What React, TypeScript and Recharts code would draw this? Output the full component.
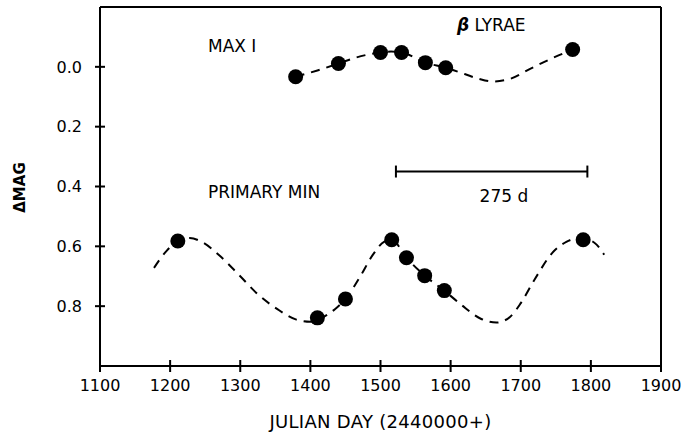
import React from "react";
import {
  ComposedChart,
  Line,
  Scatter,
  XAxis,
  YAxis,
  ReferenceDot,
  ReferenceLine,
} from "recharts";

// Julian day (2440000+) and delta magnitude
const dayTicks = [1100, 1200, 1300, 1400, 1500, 1600, 1700, 1800, 1900];
const magTicks = [0, 0.2, 0.4, 0.6, 0.8];
const dayRange = [1100, 1900];
const magRange = [-0.2, 1.0];

// MAX I observations
const maxDays = [1379, 1440, 1500, 1530, 1564, 1593, 1774];
const maxMags = [0.033, -0.011, -0.048, -0.048, -0.014, 0.003, -0.058];

// MAX I dashed fit
const maxFitDays = [1379, 1410, 1440, 1465, 1500, 1515, 1530, 1564, 1593, 1620, 1640, 1660, 1685, 1714, 1745, 1774];
const maxFitMags = [0.033, 0.012, -0.011, -0.031, -0.048, -0.051, -0.048, -0.014, 0.003, 0.024, 0.04, 0.049, 0.04, 0.006, -0.029, -0.058];

// primary minimum observations
const minDays = [1211, 1410, 1450, 1516, 1537, 1563, 1591, 1789];
const minMags = [0.582, 0.839, 0.776, 0.578, 0.638, 0.698, 0.748, 0.578];

// primary minimum dashed fit
const minFitDays = [
  1177, 1195, 1211, 1228, 1245, 1270, 1300, 1325, 1353, 1380, 1400, 1415, 1435, 1450, 1470, 1490,
  1505, 1516, 1537, 1563, 1591, 1615, 1643, 1665, 1685, 1700, 1720, 1745, 1765, 1785, 1805, 1819,
];
const minFitMags = [
  0.672, 0.615, 0.582, 0.572, 0.585, 0.63, 0.7, 0.76, 0.81, 0.845, 0.852, 0.84, 0.81, 0.776, 0.705, 0.625,
  0.585, 0.578, 0.638, 0.698, 0.748, 0.795, 0.842, 0.855, 0.835, 0.79, 0.71, 0.622, 0.585, 0.572, 0.588, 0.628,
];

// 275 d period bar
const periodStart = 1522;
const periodEnd = 1795;
const periodMag = 0.35;

const toPoints = (days: number[], mags: number[]) => days.map((day, i) => ({ day, mag: mags[i] }));

const maxPoints = toPoints(maxDays, maxMags);
const maxFit = toPoints(maxFitDays, maxFitMags);
const minPoints = toPoints(minDays, minMags);
const minFit = toPoints(minFitDays, minFitMags);

// where the crossing tick marks sit on the bottom and left axes
const dayTickMarks = dayTicks.map((day) => ({ day, mag: magRange[1] }));
const magTickMarks = magTicks.map((mag) => ({ day: dayRange[0], mag }));

const FONT = "'DejaVu Sans', sans-serif";
const INK = "#000";
const CAP_HALF = 0.02;

type VB = { x?: number; y?: number; width?: number; height?: number };
type TickProps = { x?: number; y?: number; payload?: { value: number } };
type ShapeProps = { cx?: number; cy?: number };

function DayTick({ x, y, payload }: TickProps) {
  if (typeof x !== "number" || typeof y !== "number" || !payload) return null;
  return (
    <text x={x} y={y + 25} textAnchor="middle" fontFamily={FONT} fontSize={16} fill={INK}>
      {payload.value}
    </text>
  );
}

function MagTick({ x, y, payload }: TickProps) {
  if (typeof x !== "number" || typeof y !== "number" || !payload) return null;
  return (
    <text x={x} y={y} dy="0.36em" textAnchor="end" fontFamily={FONT} fontSize={16} fill={INK}>
      {payload.value.toFixed(1)}
    </text>
  );
}

// crossing tick on the bottom axis
function VTick({ cx, cy }: ShapeProps) {
  if (typeof cx !== "number" || typeof cy !== "number") return null;
  return <rect x={cx - 1} y={cy - 6} width={2} height={12} fill={INK} />;
}

// crossing tick on the left axis
function HTick({ cx, cy }: ShapeProps) {
  if (typeof cx !== "number" || typeof cy !== "number") return null;
  return <rect x={cx - 5} y={cy - 1} width={10} height={2} fill={INK} />;
}

function Dot({ cx, cy }: ShapeProps) {
  if (typeof cx !== "number" || typeof cy !== "number") return null;
  return <circle cx={cx} cy={cy} r={7.5} fill={INK} />;
}

function note(text: React.ReactNode, anchor: "start" | "middle") {
  return (props: { viewBox?: VB }) => {
    const vb = props.viewBox ?? {};
    const cx = (vb.x ?? 0) + (vb.width ?? 0) / 2;
    const cy = (vb.y ?? 0) + (vb.height ?? 0) / 2;
    return (
      <text x={cx} y={cy} dy="0.36em" textAnchor={anchor} fontFamily={FONT} fontSize={17} fill={INK}>
        {text}
      </text>
    );
  };
}

const xTitle = (props: { viewBox?: VB }) => {
  const vb = props.viewBox ?? {};
  return (
    <text
      x={(vb.x ?? 0) + (vb.width ?? 0) / 2}
      y={(vb.y ?? 0) + 62}
      textAnchor="middle"
      fontFamily={FONT}
      fontSize={18}
      letterSpacing={0.3}
      fill={INK}
    >
      JULIAN DAY (2440000+)
    </text>
  );
};

const yTitle = (props: { viewBox?: VB }) => {
  const vb = props.viewBox ?? {};
  const x = vb.x ?? 0;
  const y = (vb.y ?? 0) + (vb.height ?? 0) / 2 + 1;
  return (
    <text
      x={x}
      y={y}
      dy="0.36em"
      transform={`rotate(-90 ${x} ${y})`}
      textAnchor="middle"
      fontFamily={FONT}
      fontSize={15}
      fontWeight="bold"
      fill={INK}
    >
      ΔMAG
    </text>
  );
};

const fitLine = {
  xAxisId: "main",
  yAxisId: "main",
  dataKey: "mag",
  type: "monotone" as const,
  stroke: INK,
  strokeWidth: 2,
  strokeDasharray: "9 7",
  dot: false,
  activeDot: false,
  isAnimationActive: false,
};

const seg = { xAxisId: "main", yAxisId: "main", stroke: INK, strokeWidth: 2, ifOverflow: "visible" as const };

export default function App() {
  return (
    <div style={{ position: "absolute", left: 0, top: 0, background: "#fff" }}>
      <ComposedChart width={685} height={432} margin={{ top: 7, right: 24, bottom: 0, left: 20 }}>
        <XAxis
          xAxisId="main"
          type="number"
          dataKey="day"
          domain={dayRange}
          ticks={dayTicks}
          height={66}
          tickSize={0}
          tickMargin={0}
          tickLine={false}
          tick={<DayTick />}
          axisLine={{ stroke: INK, strokeWidth: 2 }}
          label={xTitle}
        />
        <YAxis
          yAxisId="main"
          type="number"
          dataKey="mag"
          domain={magRange}
          reversed
          ticks={magTicks}
          width={80}
          tickSize={0}
          tickMargin={18}
          tickLine={false}
          tick={<MagTick />}
          axisLine={{ stroke: INK, strokeWidth: 2 }}
          label={yTitle}
        />

        {/* top and right edges of the frame */}
        <ReferenceLine {...seg} y={magRange[0]} />
        <ReferenceLine {...seg} x={dayRange[1]} />

        {/* tick marks crossing the axes */}
        <Scatter xAxisId="main" yAxisId="main" data={dayTickMarks} dataKey="mag" shape={<VTick />} isAnimationActive={false} />
        <Scatter xAxisId="main" yAxisId="main" data={magTickMarks} dataKey="mag" shape={<HTick />} isAnimationActive={false} />

        <Line {...fitLine} data={maxFit} />
        <Line {...fitLine} data={minFit} />
        <Scatter
          xAxisId="main"
          yAxisId="main"
          data={maxPoints}
          dataKey="mag"
          fill={INK}
          shape={<Dot />}
          isAnimationActive={false}
        />
        <Scatter
          xAxisId="main"
          yAxisId="main"
          data={minPoints}
          dataKey="mag"
          fill={INK}
          shape={<Dot />}
          isAnimationActive={false}
        />

        {/* 275 d period bar */}
        <ReferenceLine {...seg} segment={[{ x: periodStart, y: periodMag }, { x: periodEnd, y: periodMag }]} />
        <ReferenceLine
          {...seg}
          segment={[{ x: periodStart, y: periodMag - CAP_HALF }, { x: periodStart, y: periodMag + CAP_HALF }]}
        />
        <ReferenceLine
          {...seg}
          segment={[{ x: periodEnd, y: periodMag - CAP_HALF }, { x: periodEnd, y: periodMag + CAP_HALF }]}
        />

        <ReferenceDot xAxisId="main" yAxisId="main" x={1254} y={-0.071} r={0} stroke="none" fill="none" label={note("MAX I", "start")} />
        <ReferenceDot xAxisId="main" yAxisId="main" x={1254} y={0.418} r={0} stroke="none" fill="none" label={note("PRIMARY MIN", "start")} />
        <ReferenceDot
          xAxisId="main"
          yAxisId="main"
          x={1609}
          y={-0.141}
          r={0}
          stroke="none"
          fill="none"
          label={note(
            <>
              <tspan fontStyle="italic" fontWeight="bold">β</tspan> LYRAE
            </>,
            "start"
          )}
        />
        <ReferenceDot xAxisId="main" yAxisId="main" x={1676} y={0.431} r={0} stroke="none" fill="none" label={note("275 d", "middle")} />
      </ComposedChart>
    </div>
  );
}
